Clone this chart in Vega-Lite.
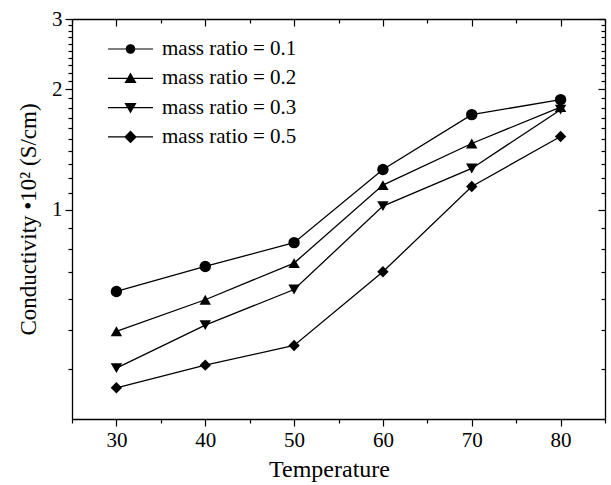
{
  "$schema": "https://vega.github.io/schema/vega-lite/v6.json",
  "width": 533,
  "height": 400,
  "autosize": "none",
  "padding": {"left": 72, "top": 19, "right": 6, "bottom": 66},
  "background": "white",
  "config": {
    "view": {"stroke": null},
    "font": "Liberation Serif, Times New Roman, serif",
    "axis": {
      "domainColor": "black",
      "domainWidth": 1.3,
      "tickColor": "black",
      "tickWidth": 1.2,
      "labelFont": "Liberation Serif, Times New Roman, serif",
      "labelColor": "black",
      "labelFontSize": 21,
      "titleFont": "Liberation Serif, Times New Roman, serif",
      "titleColor": "black",
      "titleFontSize": 23,
      "titleFontWeight": "normal",
      "grid": false,
      "labelOverlap": false
    }
  },
  "data": {
    "values": [
      {"T": 30, "c": 0.625, "s": "mass ratio = 0.1"},
      {"T": 40, "c": 0.722, "s": "mass ratio = 0.1"},
      {"T": 50, "c": 0.828, "s": "mass ratio = 0.1"},
      {"T": 60, "c": 1.262, "s": "mass ratio = 0.1"},
      {"T": 70, "c": 1.73, "s": "mass ratio = 0.1"},
      {"T": 80, "c": 1.886, "s": "mass ratio = 0.1"},
      {"T": 30, "c": 0.497, "s": "mass ratio = 0.2"},
      {"T": 40, "c": 0.596, "s": "mass ratio = 0.2"},
      {"T": 50, "c": 0.736, "s": "mass ratio = 0.2"},
      {"T": 60, "c": 1.153, "s": "mass ratio = 0.2"},
      {"T": 70, "c": 1.465, "s": "mass ratio = 0.2"},
      {"T": 80, "c": 1.807, "s": "mass ratio = 0.2"},
      {"T": 30, "c": 0.402, "s": "mass ratio = 0.3"},
      {"T": 40, "c": 0.515, "s": "mass ratio = 0.3"},
      {"T": 50, "c": 0.632, "s": "mass ratio = 0.3"},
      {"T": 60, "c": 1.022, "s": "mass ratio = 0.3"},
      {"T": 70, "c": 1.269, "s": "mass ratio = 0.3"},
      {"T": 80, "c": 1.78, "s": "mass ratio = 0.3"},
      {"T": 30, "c": 0.359, "s": "mass ratio = 0.5"},
      {"T": 40, "c": 0.409, "s": "mass ratio = 0.5"},
      {"T": 50, "c": 0.458, "s": "mass ratio = 0.5"},
      {"T": 60, "c": 0.7, "s": "mass ratio = 0.5"},
      {"T": 70, "c": 1.144, "s": "mass ratio = 0.5"},
      {"T": 80, "c": 1.525, "s": "mass ratio = 0.5"}
    ]
  },
  "layer": [
    {
      "mark": {"type": "line", "color": "black", "strokeWidth": 1.3},
      "encoding": {
        "x": {
          "field": "T", "type": "quantitative",
          "scale": {"domain": [25, 85], "nice": false, "zero": false},
          "axis": {
            "orient": "bottom",
            "title": "Temperature",
            "titleFontSize": 24,
            "titleX": 257,
            "values": [25, 30, 35, 40, 45, 50, 55, 60, 65, 70, 75, 80, 85],
            "labelExpr": "datum.value % 10 == 0 ? datum.label : ''",
            "tickSize": {"condition": {"test": "datum.value % 10 == 0", "value": 7}, "value": 4},
            "labelPadding": 3,
            "titlePadding": 7
          }
        },
        "y": {
          "field": "c", "type": "quantitative",
          "scale": {"type": "log", "domain": [0.3, 3], "nice": false, "zero": false},
          "axis": {
            "orient": "left",
            "title": "Conductivity •10² (S/cm)",
            "values": [0.4, 0.5, 0.6, 0.7, 0.8, 0.9, 1, 1.1, 1.2, 1.3, 1.4, 1.5, 1.6, 1.7, 1.8, 1.9, 2, 2.1, 2.2, 2.3, 2.4, 2.5, 2.6, 2.7, 2.8, 2.9, 3],
            "labelExpr": "datum.value == 1 ? '1' : datum.value == 2 ? '2' : datum.value == 3 ? '3' : ''",
            "tickSize": {"condition": {"test": "datum.value == 1 || datum.value == 2 || datum.value == 3", "value": 7}, "value": 4},
            "labelPadding": 3,
            "titlePadding": 11
          }
        },
        "detail": {"field": "s", "type": "nominal"},
        "order": {"field": "T", "type": "quantitative"}
      }
    },
    {
      "mark": {"type": "point", "filled": true, "color": "black", "opacity": 1, "size": 130},
      "encoding": {
        "x": {
          "field": "T", "type": "quantitative",
          "axis": {
            "orient": "top",
            "title": null,
            "labels": false,
            "values": [25, 30, 35, 40, 45, 50, 55, 60, 65, 70, 75, 80, 85],
            "tickSize": {"condition": {"test": "datum.value % 10 == 0", "value": -7}, "value": -4}
          }
        },
        "y": {
          "field": "c", "type": "quantitative",
          "axis": {
            "orient": "right",
            "title": null,
            "labels": false,
            "values": [0.4, 0.5, 0.6, 0.7, 0.8, 0.9, 1, 1.1, 1.2, 1.3, 1.4, 1.5, 1.6, 1.7, 1.8, 1.9, 2, 2.1, 2.2, 2.3, 2.4, 2.5, 2.6, 2.7, 2.8, 2.9, 3],
            "tickSize": {"condition": {"test": "datum.value == 1 || datum.value == 2 || datum.value == 3", "value": -7}, "value": -4}
          }
        },
        "shape": {
          "field": "s", "type": "nominal",
          "scale": {
            "domain": ["mass ratio = 0.1", "mass ratio = 0.2", "mass ratio = 0.3", "mass ratio = 0.5"],
            "range": ["circle", "triangle-up", "triangle-down", "diamond"]
          },
          "legend": null
        }
      }
    },
    {
      "transform": [{"filter": "false"}],
      "mark": {"type": "point", "filled": true, "fill": "black", "stroke": "black", "strokeWidth": 1.2, "opacity": 1},
      "encoding": {
        "shape": {
          "field": "s", "type": "nominal",
          "scale": {
            "domain": ["mass ratio = 0.1", "mass ratio = 0.2", "mass ratio = 0.3", "mass ratio = 0.5"],
            "range": [
              "M-2.25,0L2.25,0M0.42,0A0.42,0.42,0,1,1,-0.42,0A0.42,0.42,0,1,1,0.42,0Z",
              "M-2.25,0L2.25,0M0,-0.46L0.5,0.4L-0.5,0.4Z",
              "M-2.25,0L2.25,0M0,0.46L0.5,-0.4L-0.5,-0.4Z",
              "M-2.25,0L2.25,0M-0.55,0L0,-0.55L0.55,0L0,0.55Z"
            ]
          },
          "legend": {
            "orient": "none",
            "legendX": 47.5,
            "legendY": 19,
            "title": null,
            "padding": 0,
            "symbolSize": 400,
            "symbolStrokeWidth": 1.2,
            "symbolOpacity": 1,
            "labelFont": "Liberation Serif, Times New Roman, serif",
            "labelFontSize": 21,
            "labelColor": "black",
            "labelOffset": 20.5,
            "labelLimit": 0,
            "rowPadding": 8.3,
            "encode": {
              "symbols": {
                "stroke": {"value": "black"},
                "strokeWidth": {"value": 1.2},
                "fill": {"value": "black"},
                "opacity": {"value": 1}
              }
            }
          }
        }
      }
    }
  ],
  "resolve": {
    "axis": {"x": "independent", "y": "independent"},
    "scale": {"shape": "independent"}
  }
}
